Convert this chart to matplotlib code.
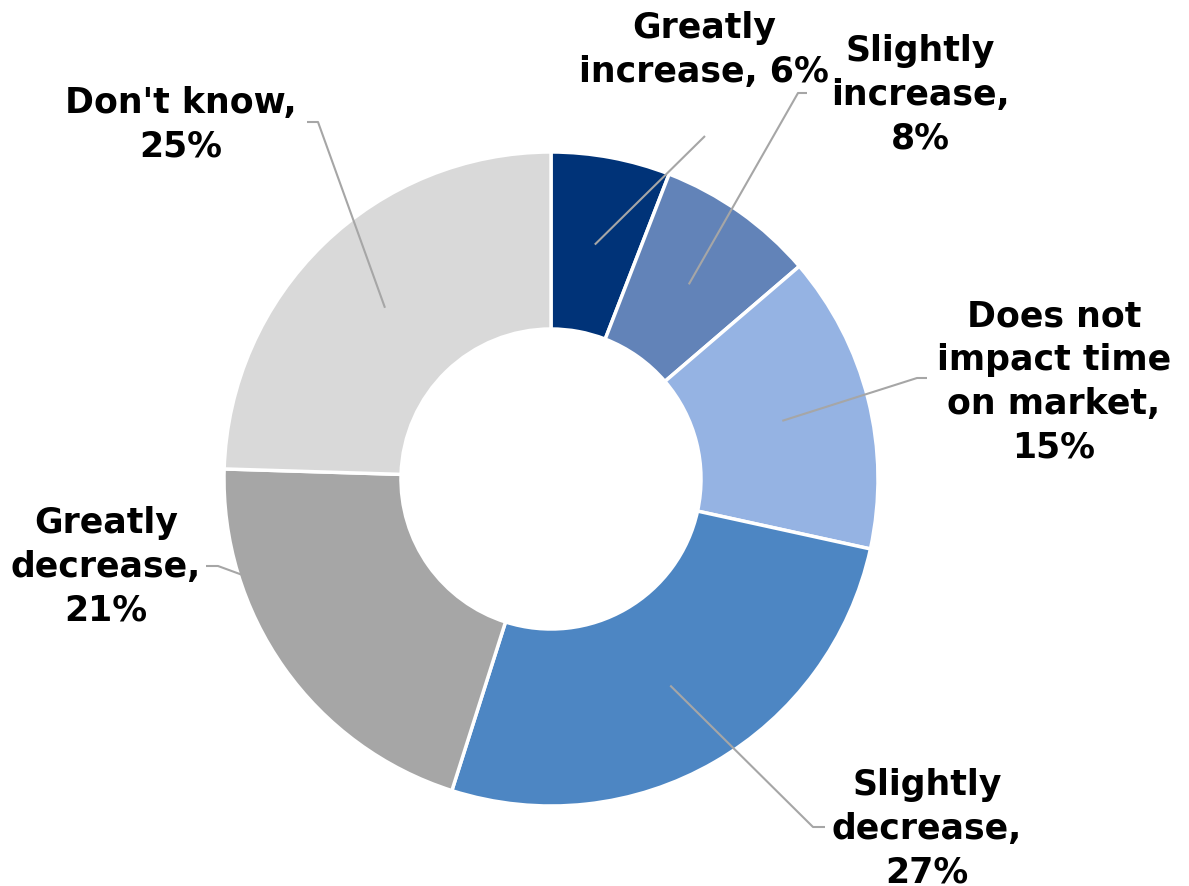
import numpy as np
import matplotlib
matplotlib.use("Agg")
import matplotlib.pyplot as plt

# survey answers, clockwise from 12 o'clock
labels = ["Greatly\nincrease, 6%", "Slightly\nincrease,\n8%",
          "Does not\nimpact time\non market,\n15%", "Slightly\ndecrease,\n27%",
          "Greatly\ndecrease,\n21%", "Don't know,\n25%"]
values = [6, 8, 15, 27, 21, 25]
colors = ["#003378", "#6283B8", "#95B3E3", "#4D86C3", "#A6A6A6", "#D9D9D9"]

W, H = 1189, 887
cx, cy = 551, H - 480
r_out, r_in = 327, 150

# label block centres and leader elbows (image pixels, y down)
label_pos = [(704, 50), (920, 95), (1054, 382), (927, 829), (106, 567), (181, 125)]
elbows = [[(705, 137)],
          [(798, 94), (807, 94)],
          [(917, 379), (927, 379)],
          [(813, 828), (825, 828)],
          [(218, 567), (206, 567)],
          [(318, 123), (307, 123)]]

fig = plt.figure(figsize=(W / 100, H / 100), dpi=100)
ax = fig.add_axes([0, 0, 1, 1])

wedges, _ = ax.pie(values, colors=colors, startangle=90, counterclock=False,
                   radius=r_out, center=(cx, cy),
                   wedgeprops=dict(width=r_out - r_in, edgecolor="white", linewidth=2.5))

r_mid = (r_out + r_in) / 2
for w, lab, (lx, ly), pts in zip(wedges, labels, label_pos, elbows):
    mid = np.deg2rad((w.theta1 + w.theta2) / 2)
    xs = [cx + r_mid * np.cos(mid)] + [p[0] for p in pts]
    ys = [cy + r_mid * np.sin(mid)] + [H - p[1] for p in pts]
    ax.plot(xs, ys, color="#A6A6A6", lw=1.5, solid_capstyle="butt")
    ax.text(lx, H - ly, lab, ha="center", va="center", fontsize=25,
            fontweight="bold", family="DejaVu Sans", linespacing=1.36, color="black")

ax.set_xlim(0, W)
ax.set_ylim(0, H)
ax.set_aspect("equal")
ax.axis("off")

fig.savefig("out.png", dpi=100)
